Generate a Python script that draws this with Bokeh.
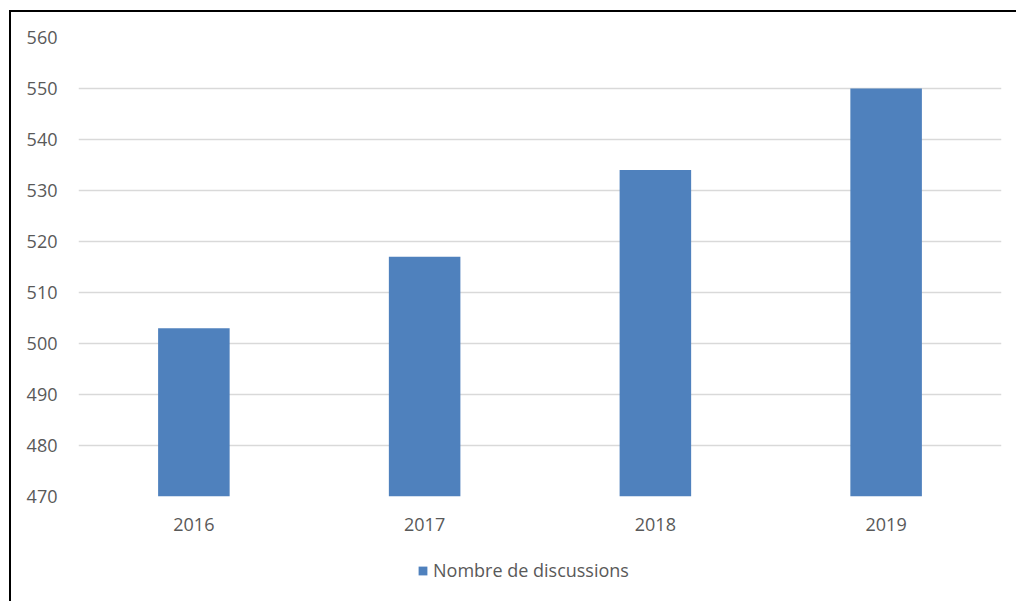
from bokeh.plotting import figure
from bokeh.models import ColumnDataSource, Range1d, Legend, LegendItem, FixedTicker
from bokeh.layouts import column
from bokeh.embed import file_html
from bokeh.resources import INLINE

years = ["2016", "2017", "2018", "2019"]
discussions = [503, 517, 534, 550]
y_ticks = [470, 480, 490, 500, 510, 520, 530, 540, 550, 560]
series_name = "Nombre de discussions"

TEXT = "#595959"
FONT = "Open Sans"
BAR = "#4F81BD"

src = ColumnDataSource(dict(year=years, value=discussions))

p = figure(x_range=years, y_range=Range1d(470, 560),
           width=1005, height=540, output_backend="svg", toolbar_location=None,
           min_border_left=67, min_border_top=25, min_border_right=15, min_border_bottom=56)

r = p.vbar(x="year", top="value", bottom=470, width=0.31, source=src,
           fill_color=BAR, line_color=None)

p.yaxis.ticker = FixedTicker(ticks=y_ticks)
for ax in (p.xaxis[0], p.yaxis[0]):
    ax.axis_line_color = None
    ax.major_tick_line_color = None
    ax.minor_tick_line_color = None
    ax.major_label_text_font = FONT
    ax.major_label_text_font_size = "18px"
    ax.major_label_text_color = TEXT
p.xaxis.major_label_standoff = 15
p.yaxis.major_label_standoff = 15

p.xgrid.grid_line_color = None
p.ygrid.grid_line_color = "#D9D9D9"
p.ygrid.grid_line_width = 1.5
p.outline_line_color = None

# legend strip below the chart: its renderer has zero-width bars, only the legend key shows
lg = figure(x_range=years, y_range=Range1d(0, 1),
            width=1005, height=43, output_backend="svg", toolbar_location=None,
            x_axis_location=None, y_axis_location=None,
            min_border_left=0, min_border_right=0, min_border_top=0, min_border_bottom=0)
lg.xgrid.grid_line_color = None
lg.ygrid.grid_line_color = None
lg.outline_line_color = None
key = lg.vbar(x="year", top="value", bottom=470, width=0, source=src,
              fill_color=BAR, line_color=None)

legend = Legend(items=[LegendItem(label=series_name, renderers=[key])],
                location=(339, 13), orientation="horizontal",
                border_line_color=None, background_fill_alpha=0,
                padding=0, margin=0, glyph_width=11, glyph_height=11,
                label_height=20, label_standoff=5,
                label_text_font=FONT, label_text_font_size="18px",
                label_text_color=TEXT)
lg.add_layout(legend, "center")

page = column(p, lg, spacing=0)
page.styles = {"border-left": "2px solid #000000", "border-top": "2px solid #000000",
               "margin-left": "9px", "margin-top": "10px", "padding-bottom": "6px"}

open("out.html", "w").write(file_html(page, INLINE))
